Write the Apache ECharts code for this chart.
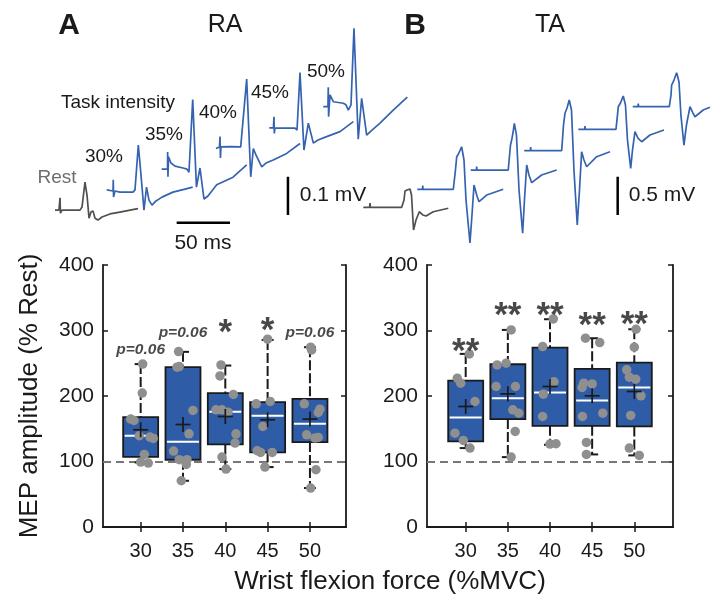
<!DOCTYPE html>
<html><head><meta charset="utf-8">
<script src="https://cdn.jsdelivr.net/npm/echarts@6/dist/echarts.min.js"></script>
<style>html,body{margin:0;padding:0;background:#fff}#c{width:711px;height:601px}</style>
</head><body><div id="c"></div>
<script>
// ---------- data ----------
const categories = [30, 35, 40, 45, 50];
const yTicks = [0, 100, 200, 300, 400];
// box stats: [lower whisker, Q1, median, Q3, upper whisker]
const raBox = [[98.6,107.2,139.3,167.8,248.7],[70.6,102.7,130.1,244,267.4],[88.4,126.0,175.9,204.3,246.5],[91.5,113.9,169.8,190.6,285.6],[59.5,129.6,157.6,195.7,274.5]];
const raMean = [148.4,156.5,168.7,163.7,164.7];
const taBox = [[120.5,130.6,167.2,223.6,264.3],[106.7,164.7,196.7,248.5,300.9],[125.5,154.5,205.3,274,317.2],[110.8,154.5,193.1,241.4,288.2],[109.3,153.5,213,251.1,301.9]];
const taMean = [184,203.3,214.5,200.3,206.9];
// individual subjects [force position (jittered), % rest]
const raDots = [
 [30.24,248.7],[30.19,204.4],[28.82,164.8],[29.21,162.6],[29.83,139.3],[31.10,137.3],[31.49,135.2],[30.43,110.8],[30.0,99.2],[30.90,97.6],
 [34.48,267.9],[34.29,244],[34.56,245],[36.18,177.9],[35.71,142.3],[33.89,115.9],[34.56,102.7],[35.47,102.7],[35.39,95.5],[34.80,70.6],
 [39.49,247.5],[39.37,230.7],[40.95,202.3],[38.90,178.9],[39.61,178.9],[40.32,175.3],[41.26,142.3],[41.15,128.1],[39.61,106.7],[40.08,88.4],
 [45.0,286.7],[45.31,191.6],[43.65,188],[44.44,153.5],[43.77,116.4],[44.17,113.9],[45.54,113.9],[44.68,91.5],
 [50.08,274.5],[50.20,270.4],[49.33,188],[51.18,179.9],[50.98,174.8],[49.61,140.8],[50.59,135.7],[50.98,136.7],[50.71,87.4],[50.08,59.5]
];
const taDots = [
 [30.43,264.3],[29.0,227.2],[29.41,219.6],[31.10,191.6],[28.73,143.3],[29.72,132.1],[30.51,120.5],
 [35.39,300.9],[33.73,247.5],[34.80,250.1],[33.61,214.5],[35.90,214.5],[35.59,178.9],[36.30,173.8],[35.87,145.9],[35.39,106.7],
 [40.39,317.7],[39.13,275.5],[40.47,221.6],[39.21,202.8],[39.13,168.7],[40.0,126.6],[40.71,127.1],
 [44.21,288.2],[45.90,281.6],[44.0,219.6],[45.0,218.5],[43.81,213],[43.85,168.7],[46.26,173.8],[44.32,129.1],[44.32,110.8],
 [50.2,301.9],[50.0,274.5],[49.1,239.9],[49.41,228.7],[50.17,225.7],[50.79,200.3],[49.57,170.3],[49.41,120.5],[50.59,109.3]
];
const raNotes = ['p=0.06','p=0.06','*','*','p=0.06'];
const raNoteY = [270, 297, 310, 312, 296];
const taNotes = ['**','**','**','**','**'];
const taNoteY = [280, 335, 335, 320, 321];
const restLevel = 100;

// MEP traces [time ms, mV]
const raRest = [[4.7,0.078],[8.4,0.078],[9.4,0.110],[9.8,0.070],[11.3,0.078],[28.1,0.078],[30.0,0.086],[32.8,0.151],[34.7,0.117],[36.6,0.057],[38.4,0.073],[40.3,0.076],[42.2,0.057],[45.0,0.052],[48.75,0.060],[56.25,0.068],[65.6,0.073],[75,0.078],[82.5,0.082]];
const ra30 = [[53.2,0.131],[59.1,0.128],[59.3,0.157],[59.6,0.112],[60.9,0.128],[65.6,0.125],[77.8,0.125],[79.7,0.131],[82.8,0.248],[85.3,0.170],[88.1,0.078],[90.5,0.138],[92.8,0.104],[95.6,0.091],[99.4,0.102],[105,0.112],[115.3,0.125],[126.6,0.133],[133.8,0.138]];
const ra35 = [[104.7,0.185],[110.2,0.185],[110.3,0.230],[110.6,0.165],[111.1,0.217],[113.4,0.201],[117.2,0.193],[124.7,0.188],[128.4,0.185],[130.3,0.177],[133.8,0.367],[137.3,0.138],[140.6,0.188],[144.4,0.107],[148.1,0.115],[156.3,0.144],[171.6,0.164],[184.4,0.196]];
const ra40 = [[155.6,0.239],[158.9,0.243],[159.4,0.270],[159.8,0.214],[160.3,0.243],[168.75,0.244],[178.8,0.243],[180,0.239],[184.4,0.420],[188.2,0.165],[190.6,0.239],[193.1,0.222],[198.5,0.191],[202.5,0.201],[209.3,0.209],[221.9,0.226],[234.4,0.252]];
const ra45 = [[205.6,0.293],[209.5,0.293],[210,0.322],[210.3,0.278],[210.9,0.292],[220.3,0.292],[229.7,0.292],[231.6,0.287],[234.4,0.437],[238.1,0.235],[242.2,0.305],[246.9,0.253],[251.25,0.261],[259.4,0.270],[271.9,0.283],[284.4,0.309]];
const ra50 = [[256.2,0.348],[260.6,0.348],[260.9,0.399],[261.2,0.322],[262.5,0.379],[265.6,0.361],[275,0.357],[277.5,0.353],[279.7,0.339],[282.2,0.353],[285,0.553],[289,0.263],[292.2,0.370],[296.9,0.274],[301.9,0.287],[309.4,0.305],[321.8,0.339],[335,0.373]];
const taRest = [[3.1,0.557],[9.0,0.557],[9.4,0.613],[9.8,0.557],[39.1,0.557],[41.25,0.652],[42.2,0.769],[44.1,0.782],[45.5,0.756],[46.9,0.795],[48.3,0.717],[50.2,0.261],[52.5,0.391],[55.6,0.499],[59.1,0.456],[61.9,0.443],[68.7,0.499],[82.8,0.544]];
const ta30 = [[53.7,0.792],[58.6,0.792],[58.8,0.841],[59.1,0.792],[87.5,0.792],[89.5,1.043],[90.7,1.217],[92.3,1.252],[95.3,1.347],[97.5,1.174],[99.4,0.652],[103.1,0.091],[105,0.456],[106.9,0.848],[109.7,0.704],[111.6,0.630],[118.8,0.717],[134.3,0.792]];
const ta35 = [[103.8,1.043],[109.2,1.043],[109.4,1.089],[109.7,1.043],[139,1.043],[141.1,1.369],[142.2,1.434],[143.4,1.526],[144.7,1.652],[146.7,1.500],[149.1,0.782],[152.5,0.218],[154.2,0.652],[156.3,1.108],[158.4,0.978],[161,0.878],[170.3,0.978],[184.4,1.043]];
const ta40 = [[154,1.295],[159.8,1.295],[160,1.343],[160.3,1.295],[189.1,1.295],[190.8,1.630],[192.2,1.783],[194.1,1.852],[196.2,1.956],[198.3,1.826],[200.6,1.043],[203.7,0.326],[205.8,0.782],[207.8,1.282],[210,1.174],[212.5,1.086],[221.9,1.217],[234.4,1.282]];
const ta45 = [[204.7,1.574],[210.8,1.574],[210.9,1.617],[211.2,1.574],[240,1.574],[241.4,1.760],[242.2,1.869],[244.2,1.917],[246.8,2.008],[248.9,1.891],[250.8,1.434],[253.8,1.065],[255.5,1.304],[257.8,1.543],[260.6,1.460],[264.1,1.412],[271.9,1.500],[285,1.565]];
const ta50 = [[255.7,1.869],[260.6,1.869],[260.9,1.910],[261.2,1.869],[290,1.869],[291.6,2.021],[292.2,2.152],[294.4,2.217],[296.9,2.312],[299.1,2.191],[300.9,1.760],[303.75,1.369],[306.1,1.630],[309.4,1.869],[312.2,1.786],[314.1,1.738],[321.8,1.826],[328.1,1.861]];
// scale bars
const raTimeBar = [[118.75,0.045],[168.75,0.045]];
const raAmpBar = [[223.1,0.065],[223.1,0.165]];
const taAmpBar = [[241.6,0.456],[241.6,0.956]];

// ---------- styling ----------
const FONT = '"Liberation Sans", Arial, Helvetica, sans-serif';
const BLUE_TRACE = '#3563b0';
const GRAY_TRACE = '#505050';
const BOX_FILL = '#2f5ca6';
const DOT = '#8f8f8f';
const INK = '#1a1a1a';

const chart = echarts.init(document.getElementById('c'), null, {renderer: 'canvas'});

function boxRender(params, api) {
  const x = api.value(0);
  const c = v => api.coord([x, v]);
  const lo = c(api.value(1)), q1 = c(api.value(2)), md = c(api.value(3)), q3 = c(api.value(4)), hi = c(api.value(5));
  const cx = lo[0], hw = 17.5, cw = 6;
  const ws = {stroke: INK, lineWidth: 2, lineDash: [10, 3]};
  const cs = {stroke: INK, lineWidth: 2};
  return {type: 'group', children: [
    {type: 'line', shape: {x1: cx, y1: hi[1], x2: cx, y2: q3[1]}, style: ws},
    {type: 'line', shape: {x1: cx, y1: q1[1], x2: cx, y2: lo[1]}, style: ws},
    {type: 'line', shape: {x1: cx - cw, y1: hi[1], x2: cx + cw, y2: hi[1]}, style: cs},
    {type: 'line', shape: {x1: cx - cw, y1: lo[1], x2: cx + cw, y2: lo[1]}, style: cs},
    {type: 'rect', shape: {x: cx - hw, y: q3[1], width: 2 * hw, height: q1[1] - q3[1]}, style: {fill: BOX_FILL, stroke: INK, lineWidth: 1.8}},
    {type: 'line', shape: {x1: cx - hw + 1.5, y1: md[1], x2: cx + hw - 1.5, y2: md[1]}, style: {stroke: '#ffffff', lineWidth: 2}}
  ]};
}
function meanRender(params, api) {
  const p = api.coord([api.value(0), api.value(1)]);
  const r = 7.5;
  const st = {stroke: INK, lineWidth: 1.7};
  return {type: 'group', children: [
    {type: 'line', shape: {x1: p[0] - r, y1: p[1], x2: p[0] + r, y2: p[1]}, style: st},
    {type: 'line', shape: {x1: p[0], y1: p[1] - r, x2: p[0], y2: p[1] + r}, style: st}
  ]};
}

const boxGrids = [
  {left: 103, top: 265, width: 243, height: 262, min: 25.55, max: 54.26},
  {left: 427, top: 265, width: 246, height: 262, min: 25.41, max: 54.59}
];
const grid = [
  ...boxGrids.map(g => ({left: g.left, top: g.top, width: g.width, height: g.height, containLabel: false})),
  {left: 50, top: 20, width: 370, height: 220},
  {left: 360, top: 20, width: 351, height: 230}
];
const axLine = {show: true, lineStyle: {color: INK, width: 1.8}};
const xAxis = [], yAxis = [];
boxGrids.forEach((g, i) => {
  xAxis.push({type: 'value', gridIndex: i, min: g.min, max: g.max, position: 'bottom',
    axisLine: axLine, splitLine: {show: false},
    axisTick: {show: true, inside: true, length: 5, customValues: categories, lineStyle: {color: INK, width: 1.5}},
    axisLabel: {show: true, customValues: categories, margin: 14, fontSize: 20, color: INK, fontFamily: FONT}});
  xAxis.push({type: 'value', gridIndex: i, min: g.min, max: g.max, position: 'top',
    axisLine: axLine, splitLine: {show: false},
    axisTick: {show: true, inside: true, length: 5, customValues: categories, lineStyle: {color: INK, width: 1.5}},
    axisLabel: {show: false}});
  yAxis.push({type: 'value', gridIndex: i, min: 0, max: 400, interval: 100, position: 'left',
    axisLine: axLine, splitLine: {show: false},
    axisTick: {show: true, inside: true, length: 5, lineStyle: {color: INK, width: 1.5}},
    axisLabel: {show: true, margin: 9, fontSize: 21, color: INK, fontFamily: FONT}});
  yAxis.push({type: 'value', gridIndex: i, min: 0, max: 400, interval: 100, position: 'right',
    axisLine: axLine, splitLine: {show: false},
    axisTick: {show: true, inside: true, length: 5, lineStyle: {color: INK, width: 1.5}},
    axisLabel: {show: false}});
});
// trace panels (hidden axes)
xAxis.push({type: 'value', gridIndex: 2, min: 0, max: 346.9, show: false});
yAxis.push({type: 'value', gridIndex: 2, min: 0, max: 0.5744, show: false});
xAxis.push({type: 'value', gridIndex: 3, min: 0, max: 329.1, show: false});
yAxis.push({type: 'value', gridIndex: 3, min: 0, max: 3.0, show: false});

const series = [];
[[raBox, raMean, raDots, raNotes, raNoteY], [taBox, taMean, taDots, taNotes, taNoteY]].forEach(([box, mean, dots, notes, noteY], i) => {
  const xi = i * 2, yi = i * 2;
  series.push({type: 'custom', xAxisIndex: xi, yAxisIndex: yi, renderItem: boxRender, z: 3,
    encode: {x: 0, y: [1, 2, 3, 4, 5]},
    data: categories.map((c, k) => [c, ...box[k]]),
    markLine: {silent: true, symbol: 'none', z: 1, label: {show: false},
      lineStyle: {type: [8, 5], color: '#777', width: 2}, data: [{yAxis: restLevel}]}});
  series.push({type: 'scatter', xAxisIndex: xi, yAxisIndex: yi, z: 5, symbolSize: 9.5,
    itemStyle: {color: DOT, opacity: 1}, data: dots});
  series.push({type: 'custom', xAxisIndex: xi, yAxisIndex: yi, renderItem: meanRender, z: 6,
    encode: {x: 0, y: 1}, data: categories.map((c, k) => [c, mean[k]])});
  series.push({type: 'scatter', xAxisIndex: xi, yAxisIndex: yi, z: 7, symbolSize: 1,
    itemStyle: {color: 'rgba(0,0,0,0)'},
    label: {show: true, position: 'inside', formatter: p => notes[p.dataIndex], fontFamily: FONT, color: INK},
    data: categories.map((c, k) => {
      const isStar = notes[k].indexOf('*') === 0;
      return {value: [c, noteY[k]], label: isStar
        ? {fontSize: 35, fontWeight: 'bold', offset: [0, 9], letterSpacing: 2}
        : {fontSize: 15.5, fontWeight: 'bold', fontStyle: 'italic'}};
    })});
});
function trace(data, gi, color) {
  return {type: 'line', xAxisIndex: 4 + (gi - 2), yAxisIndex: 4 + (gi - 2), data, showSymbol: false, symbol: 'none',
    smooth: false, lineStyle: {color, width: 1.7}, z: 2, animation: false};
}
[[raRest, GRAY_TRACE], [ra30, BLUE_TRACE], [ra35, BLUE_TRACE], [ra40, BLUE_TRACE], [ra45, BLUE_TRACE], [ra50, BLUE_TRACE]].forEach(([d, col]) => series.push(trace(d, 2, col)));
[[taRest, GRAY_TRACE], [ta30, BLUE_TRACE], [ta35, BLUE_TRACE], [ta40, BLUE_TRACE], [ta45, BLUE_TRACE], [ta50, BLUE_TRACE]].forEach(([d, col]) => series.push(trace(d, 3, col)));
series.push({type: 'line', xAxisIndex: 4, yAxisIndex: 4, data: raTimeBar, showSymbol: false, lineStyle: {color: '#000', width: 2.5}});
series.push({type: 'line', xAxisIndex: 4, yAxisIndex: 4, data: raAmpBar, showSymbol: false, lineStyle: {color: '#000', width: 2.5}});
series.push({type: 'line', xAxisIndex: 5, yAxisIndex: 5, data: taAmpBar, showSymbol: false, lineStyle: {color: '#000', width: 2.5}});

const txt = (text, x, y, size, opts = {}) => ({type: 'text', x, y, rotation: opts.rot || 0, z: 10,
  style: {text, fontSize: size, fontFamily: FONT, fontWeight: opts.bold ? 'bold' : 'normal',
    fill: opts.color || INK, align: 'center', verticalAlign: 'middle'}});

chart.setOption({
  animation: false,
  backgroundColor: '#ffffff',
  grid, xAxis, yAxis, series,
  graphic: [
    txt('A', 69, 26, 30, {bold: true}),
    txt('RA', 225, 25, 25),
    txt('B', 415, 26, 30, {bold: true}),
    txt('TA', 550, 25, 25),
    txt('Task intensity', 118, 103, 19),
    txt('30%', 104, 157, 19),
    txt('35%', 164, 135, 19),
    txt('40%', 218, 113, 19),
    txt('45%', 270, 93, 19),
    txt('50%', 326, 72, 19),
    txt('Rest', 57, 178, 19, {color: '#6e6e6e'}),
    txt('0.1 mV', 333, 195, 21),
    txt('0.5 mV', 662, 195, 21),
    txt('50 ms', 203, 243, 21),
    txt('MEP amplitude (% Rest)', 30, 396, 26, {rot: Math.PI / 2}),
    txt('Wrist flexion force (%MVC)', 390, 582, 26)
  ]
});
</script></body></html>
